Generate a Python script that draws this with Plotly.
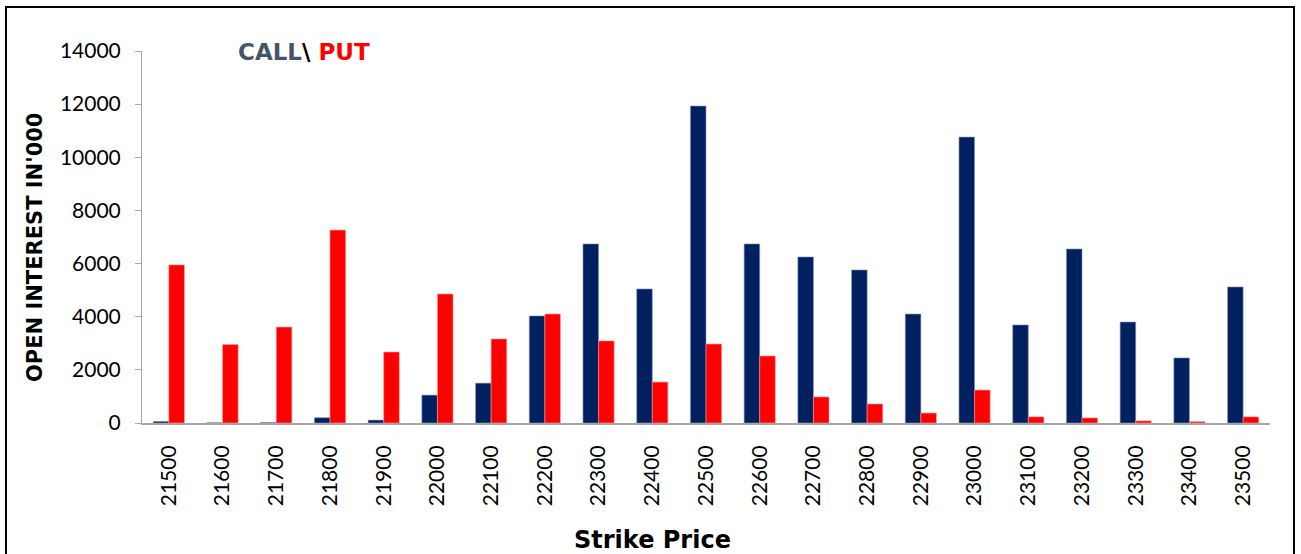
import plotly.graph_objects as go

strikes = ["21500", "21600", "21700", "21800", "21900", "22000", "22100", "22200", "22300", "22400",
           "22500", "22600", "22700", "22800", "22900", "23000", "23100", "23200", "23300", "23400", "23500"]
call_oi = [60, 10, 20, 200, 110, 1050, 1500, 4030, 6740, 5045,
           11930, 6740, 6250, 5760, 4100, 10760, 3690, 6550, 3800, 2450, 5120]
put_oi = [5950, 2950, 3610, 7260, 2670, 4855, 3160, 4100, 3090, 1540,
          2970, 2520, 980, 715, 375, 1240, 230, 190, 80, 50, 230]

W, H = 1301, 554
L, R, T, B = 142, 31, 51, 131

fig = go.Figure()
fig.add_trace(go.Bar(x=strikes, y=call_oi, name="CALL",
                     marker=dict(color="#002060", line=dict(color="rgba(140,150,180,0.6)", width=1))))
fig.add_trace(go.Bar(x=strikes, y=put_oi, name="PUT",
                     marker=dict(color="#FF0000", line=dict(color="rgba(255,150,150,0.6)", width=1))))

tick_font = "Lato, Liberation Sans, sans-serif"
bold_font = "DejaVu Sans, Verdana, sans-serif"
fig.update_layout(
    width=W, height=H, autosize=False,
    margin=dict(l=L, r=R, t=T, b=B, autoexpand=False),
    paper_bgcolor="white", plot_bgcolor="white",
    barmode="group", bargap=0.42, bargroupgap=0,
    showlegend=False,
    font=dict(family=tick_font, color="black"),
    xaxis=dict(type="category", tickangle=-90, tickfont=dict(size=21, family=tick_font, color="black"),
               showline=True, linecolor="#A6A6A6", linewidth=2, ticks="", showgrid=False,
               ticklabelstandoff=12, automargin=False),
    yaxis=dict(range=[0, 14000], dtick=2000, tickformat="d",
               tickfont=dict(size=21, family=tick_font, color="black"),
               showline=True, linecolor="#A6A6A6", linewidth=1, ticks="outside", ticklen=6, tickcolor="#A6A6A6",
               ticklabelstandoff=10, automargin=False,
               showgrid=False, zeroline=False),
)

pw, ph = W - L - R, H - T - B
def px_to_paper_x(px): return (px - L) / pw
def px_to_paper_y(py): return (H - B - py) / ph

fig.add_annotation(xref="paper", yref="paper", x=px_to_paper_x(652), y=px_to_paper_y(540),
                   xanchor="center", yanchor="middle",
                   text="<b>Strike Price</b>", showarrow=False,
                   font=dict(size=24, family=bold_font, color="black"))

fig.add_annotation(xref="paper", yref="paper", x=px_to_paper_x(35), y=px_to_paper_y(248),
                   xanchor="center", yanchor="middle", textangle=-90,
                   text="<b>OPEN INTEREST IN'000</b>", showarrow=False,
                   font=dict(size=21, family=bold_font, color="black"))

fig.add_annotation(xref="paper", yref="paper", x=px_to_paper_x(236), y=px_to_paper_y(52), xanchor="left", yanchor="middle",
                   text="<b><span style='color:#44546A'>CALL</span>\\ <span style='color:#FF0000'>PUT</span></b>",
                   showarrow=False, font=dict(size=23, family=bold_font, color="black"))

fig.add_shape(type="rect", xref="paper", yref="paper",
              x0=px_to_paper_x(6), x1=px_to_paper_x(1294), y0=px_to_paper_y(570), y1=px_to_paper_y(7),
              line=dict(color="black", width=2), fillcolor="rgba(0,0,0,0)", layer="below")

fig.write_html("out.html", config={"displayModeBar": False},
               post_script="document.body.style.margin='0';document.body.style.padding='0';")
